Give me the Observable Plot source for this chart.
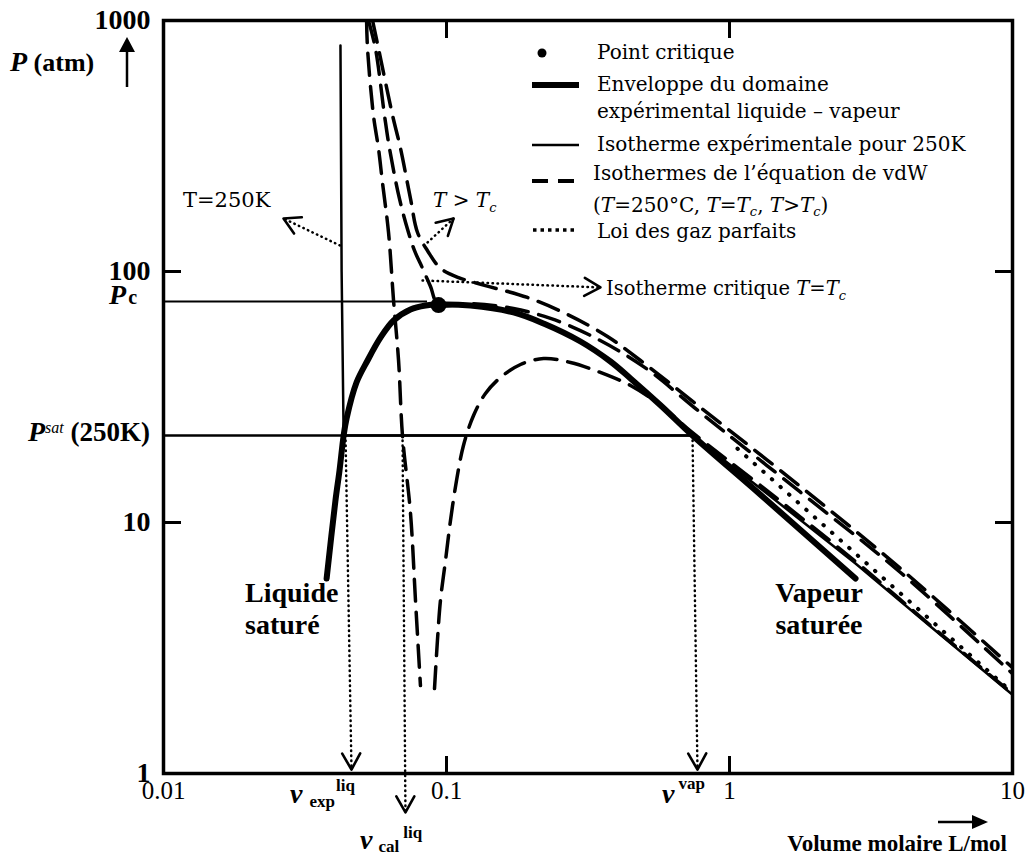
<!DOCTYPE html>
<html><head><meta charset="utf-8">
<script src="https://cdn.jsdelivr.net/npm/d3@7"></script>
<script src="https://cdn.jsdelivr.net/npm/@observablehq/plot@0.6"></script>
<style>body{margin:0;background:#fff;} #chart svg{display:block;}</style>
</head><body><div id="chart"></div>
<script>
// ---------- data (v in L/mol, P in atm) ----------
const xTicks = [0.01, 0.1, 1, 10];
const yTicks = [1, 10, 100, 1000];
const innerXTicks = [0.1, 1];
const innerYTicks = [10, 100];

const envV = [0.0377,0.0405,0.04187,0.0433,0.04435,0.04808,0.0526,0.0585,0.0650,0.0746,0.0843,0.0937,0.1216,0.1724,0.2203,0.2975,0.3797,0.4469,0.5705,0.7401,1.287,2.788];
const envP = [5.98,12.2,16.11,22.2,25.96,36.13,44.2,54.6,63.8,70.6,73.2,73.9,73.2,68.7,62.07,52.62,43.79,37.47,29.3,22.2,12.9,5.98];

const expV = [0.0422,0.0426,0.0433,0.7401,1.287,2.788,5.131,10];
const expP = [795,100,22.2,22.2,13.66,6.87,3.85,2.06];

const vdw250LiqV = [0.0522,0.0526,0.0552,0.0575,0.0594,0.0624,0.0650,0.0677,0.0699,0.0746,0.0777,0.0809];
const vdw250LiqP = [1000,773,418,309,226,143,76.6,44.2,22.2,10.9,4.89,2.24];
const vdw250VapV = [0.0907,0.0929,0.0952,0.0992,0.1033,0.1085,0.1148,0.1246,0.1373,0.1551,0.1826,0.2203,0.2744,0.3500,0.4469,0.5705,0.7401,1.287,2.788,5.131,10];
const vdw250VapP = [2.18,3.39,4.89,7.06,10.18,14.70,20.27,26.69,32.66,37.82,42.61,45.0,43.40,39.6,35.14,29.3,22.8,14.04,6.99,3.89,2.08];

const vdwTcV = [0.0530,0.0561,0.0604,0.0629,0.0682,0.0734,0.0771,0.0823,0.0878,0.0937,0.1216,0.1724,0.2331,0.3227,0.4967,0.7898,1.782,4.019,10];
const vdwTcP = [1000,773,418,309,195,143,121,103,87.1,73.9,74.5,71.2,65.0,55.6,41.8,27.4,13.2,6.32,2.50];

const vdwHotV = [0.0548,0.0575,0.0645,0.0688,0.0746,0.0790,0.0857,0.0952,0.1103,0.1373,0.1932,0.2677,0.3706,0.4847,0.7898,1.782,4.019,10];
const vdwHotP = [1000,773,418,309,195,143,121,103,94.6,87.9,78.8,67.4,55.1,44.2,28.7,13.9,6.56,2.64];

const idealV = [1.067,2.788,10];
const idealP = [19.7,7.52,2.10];

const critV = 0.0937, critP = 73.5;
const PcLevel = 76, PcLineEndV = 0.0857;
const Psat = 22.2, vVap = 0.7401;

// annotation arrows (dotted shaft, open head)
const arrowFromV = [0.04397, 0.06992, 0.7401, 0.0420, 0.0857, 0.0823];
const arrowFromP = [22.2, 22.2, 22.2, 127, 130.5, 92.1];
const arrowToV   = [0.04616, 0.07161, 0.7706, 0.02655, 0.1059, 0.350];
const arrowToP   = [1.037, 0.70, 1.037, 162.6, 162.6, 86.4];

// ---------- build ----------
const rows = (vs, ps) => vs.map((v, i) => ({v, p: ps[i]}));
const arrows = arrowFromV.map((v, i) => ({x1: v, y1: arrowFromP[i], x2: arrowToV[i], y2: arrowToP[i]}));
const LS = "Liberation Serif", DS = "DejaVu Serif";
const dash = "22,11";

const chart = Plot.plot({
  width: 1028, height: 864,
  marginLeft: 163, marginRight: 16, marginTop: 20, marginBottom: 91,
  x: {type: "log", domain: [0.01, 10]},
  y: {type: "log", domain: [1, 1000]},
  style: {fontFamily: LS, background: "white", color: "black", overflow: "visible"},
  marks: [
    Plot.ruleY([{p: PcLevel, a: 0.01, b: PcLineEndV}], {y: "p", x1: "a", x2: "b", strokeWidth: 2}),
    Plot.ruleY([{p: Psat, a: 0.01, b: vVap}], {y: "p", x1: "a", x2: "b", strokeWidth: 2.5}),
    Plot.line(rows(idealV, idealP), {x: "v", y: "p", strokeWidth: 4, strokeDasharray: "0.5,11", strokeLinecap: "round"}),
    Plot.line(rows(vdwHotV, vdwHotP), {x: "v", y: "p", strokeWidth: 3.5, strokeDasharray: dash, curve: "catmull-rom", clip: true}),
    Plot.line(rows(vdwTcV, vdwTcP), {x: "v", y: "p", strokeWidth: 3.5, strokeDasharray: dash, curve: "catmull-rom", clip: true}),
    Plot.line(rows(vdw250LiqV, vdw250LiqP), {x: "v", y: "p", strokeWidth: 3.5, strokeDasharray: dash, curve: "catmull-rom", clip: true}),
    Plot.line(rows(vdw250VapV, vdw250VapP), {x: "v", y: "p", strokeWidth: 3.5, strokeDasharray: dash, curve: "catmull-rom", clip: true}),
    Plot.line(rows(expV, expP), {x: "v", y: "p", strokeWidth: 2.5}),
    Plot.line(rows(envV, envP), {x: "v", y: "p", strokeWidth: 6, curve: "catmull-rom"}),
    Plot.dot([{v: critV, p: critP}], {x: "v", y: "p", r: 8, fill: "black"}),
    Plot.link(arrows, {x1: "x1", y1: "y1", x2: "x2", y2: "y2", stroke: "black", strokeWidth: 2.5, strokeDasharray: "0.5,4.5", strokeLinecap: "round"}),
    Plot.frame({strokeWidth: 3.5}),
    // inward ticks
    Plot.axisX(innerXTicks, {anchor: "bottom", tickSize: 17, dy: -17, tickFormat: () => "", strokeWidth: 3, label: null}),
    Plot.axisX(innerXTicks, {anchor: "top", tickSize: 17, dy: 17, tickFormat: () => "", strokeWidth: 3, label: null}),
    Plot.axisY(innerYTicks, {anchor: "left", tickSize: 18, dx: 18, tickFormat: () => "", strokeWidth: 3, label: null}),
    Plot.axisY(innerYTicks, {anchor: "right", tickSize: 18, dx: -18, tickFormat: () => "", strokeWidth: 3, label: null}),
    // tick labels
    Plot.axisX(xTicks, {anchor: "bottom", tickSize: 0, tickPadding: 8, fontSize: 25, fontFamily: LS, tickFormat: d => String(d), label: null}),
    Plot.axisY(yTicks, {anchor: "left", tickSize: 0, tickPadding: 13, fontSize: 28, fontWeight: "bold", fontFamily: LS, tickFormat: d => String(d), label: null})
  ]
});
document.getElementById("chart").appendChild(chart);

// ---------- decorations ----------
const svg = d3.select(chart);
const defs = svg.append("defs");
defs.append("marker").attr("id", "vhead").attr("viewBox", "-20 -12 22 24")
  .attr("refX", 0).attr("refY", 0).attr("markerWidth", 22).attr("markerHeight", 24)
  .attr("markerUnits", "userSpaceOnUse").attr("orient", "auto")
  .append("path").attr("d", "M-16,-9L0,0L-16,9").attr("fill", "none").attr("stroke", "black")
  .attr("stroke-width", 2.6).attr("stroke-dasharray", "none").attr("stroke-linecap", "round").attr("stroke-linejoin", "round");
svg.selectAll('g[aria-label="link"] path, g[aria-label="link"] line').attr("marker-end", "url(#vhead)");

const g = svg.append("g").attr("fill", "black");
function rich(x, y, parts, opts = {}) {
  const t = g.append("text").attr("x", x).attr("y", y)
    .attr("text-anchor", opts.anchor || "start")
    .attr("font-family", opts.fam || DS).attr("font-size", opts.sz || 20)
    .attr("font-weight", opts.b ? "bold" : "normal");
  for (const p of parts) {
    const s = t.append("tspan").text(p.t).attr("y", y + (p.shift || 0));
    if (p.fam) s.attr("font-family", p.fam);
    if (p.sz) s.attr("font-size", p.sz);
    if (p.b !== undefined) s.attr("font-weight", p.b ? "bold" : "normal");
    if (p.it) s.attr("font-style", "italic");
    if (p.dx) s.attr("dx", p.dx);
  }
  return t;
}

// y label + arrow
rich(10, 71, [{t: "P", it: true, sz: 28}, {t: " (atm)", sz: 26}], {fam: LS, b: true});
g.append("line").attr("x1", 127).attr("y1", 87).attr("x2", 127).attr("y2", 48).attr("stroke", "black").attr("stroke-width", 2.5);
g.append("path").attr("d", "M119,52L127,37L135,52Z");
// x label + arrow
rich(1007, 851, [{t: "Volume molaire L/mol"}], {fam: LS, b: true, sz: 23, anchor: "end"});
g.append("line").attr("x1", 938).attr("y1", 822).attr("x2", 975).attr("y2", 822).attr("stroke", "black").attr("stroke-width", 2.5);
g.append("path").attr("d", "M972,815L988,822L972,829Z");

// Pc and Psat labels
rich(126, 304, [{t: "P", it: true, sz: 28}, {t: "c", sz: 20, dx: -6}], {fam: LS, b: true, anchor: "end"});
rich(28, 441, [{t: "P", it: true, sz: 28}, {t: "sat", it: true, sz: 16, shift: -8, b: false}, {t: " (250K)", sz: 27}], {fam: LS, b: true});

// v labels
rich(290, 803, [{t: "v", it: true, sz: 28}, {t: "exp", sz: 17, dx: 7, shift: 4}, {t: "liq", sz: 17, dx: 1, shift: -12}], {fam: LS, b: true});
rich(360, 849, [{t: "v", it: true, sz: 28}, {t: "cal", sz: 17, dx: 6, shift: 3}, {t: "liq", sz: 17, dx: 4, shift: -11}], {fam: LS, b: true});
rich(662, 803, [{t: "v", it: true, sz: 28}, {t: "vap", sz: 17, dx: 4, shift: -14}], {fam: LS, b: true});

// phase labels
rich(245, 602, [{t: "Liquide"}], {fam: LS, b: true, sz: 28});
rich(245, 634, [{t: "saturé"}], {fam: LS, b: true, sz: 28});
rich(819, 602, [{t: "Vapeur"}], {fam: LS, b: true, sz: 28, anchor: "middle"});
rich(819, 634, [{t: "saturée"}], {fam: LS, b: true, sz: 28, anchor: "middle"});

// annotation texts
rich(183, 207, [{t: "T=250K"}], {sz: 21});
rich(433, 207, [{t: "T", it: true}, {t: " > "}, {t: "T", it: true}, {t: "c", it: true, sz: 13, shift: 5}], {sz: 20});
rich(606, 295, [{t: "Isotherme critique "}, {t: "T", it: true}, {t: "="}, {t: "T", it: true}, {t: "c", it: true, sz: 13, shift: 5}], {sz: 19.5});

// legend
const L = g.append("g");
L.append("circle").attr("cx", 542).attr("cy", 53).attr("r", 4.5);
L.append("line").attr("x1", 532).attr("x2", 579).attr("y1", 85).attr("y2", 85).attr("stroke", "black").attr("stroke-width", 6);
L.append("line").attr("x1", 532).attr("x2", 579).attr("y1", 145).attr("y2", 145).attr("stroke", "black").attr("stroke-width", 2.5);
L.append("line").attr("x1", 532).attr("x2", 580).attr("y1", 181).attr("y2", 181).attr("stroke", "black").attr("stroke-width", 4).attr("stroke-dasharray", "16,10");
L.append("line").attr("x1", 533).attr("x2", 577).attr("y1", 230).attr("y2", 230).attr("stroke", "black").attr("stroke-width", 3.5).attr("stroke-dasharray", "3.5,4");
rich(597, 59, [{t: "Point critique"}]);
rich(597, 91, [{t: "Enveloppe du domaine"}]);
rich(597, 118, [{t: "expérimental liquide – vapeur"}]);
rich(597, 151, [{t: "Isotherme expérimentale pour 250K"}]);
rich(593, 180, [{t: "Isothermes de l’équation de vdW"}]);
rich(593, 212, [{t: "("}, {t: "T", it: true}, {t: "=250°C, "}, {t: "T", it: true}, {t: "="}, {t: "T", it: true}, {t: "c", it: true, sz: 13, shift: 4}, {t: ", "}, {t: "T", it: true}, {t: ">"}, {t: "T", it: true}, {t: "c", it: true, sz: 13, shift: 4}, {t: ")"}]);
rich(597, 238, [{t: "Loi des gaz parfaits"}]);
</script></body></html>
